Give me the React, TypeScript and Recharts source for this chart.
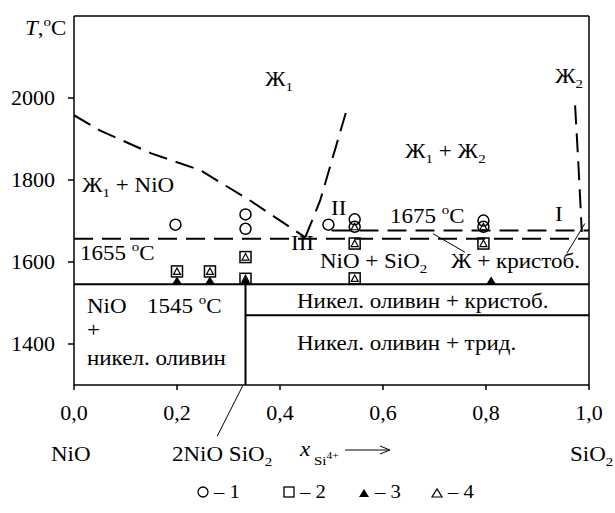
import React from 'react';
import {
  ComposedChart,
  Line,
  Scatter,
  XAxis,
  YAxis,
  ReferenceLine,
} from 'recharts';

// axis ticks
const xTicks = [0, 0.2, 0.4, 0.6, 0.8, 1.0];
const yTicks = [1400, 1600, 1800, 2000];

// liquidus / boundary curves (x = mole fraction Si4+, y = T, °C)
const liquidusNiO = [
  { x: 0, y: 1958 },
  { x: 0.05, y: 1921 },
  { x: 0.15, y: 1865 },
  { x: 0.245, y: 1824 },
  { x: 0.342, y: 1750 },
  { x: 0.449, y: 1660 },
];
const liquidusEut = [
  { x: 0.449, y: 1660 },
  { x: 0.478, y: 1750 },
  { x: 0.532, y: 1982 },
];
const liquidusSiO2 = [
  { x: 0.973, y: 1982 },
  { x: 0.979, y: 1848 },
  { x: 0.983, y: 1750 },
  { x: 0.986, y: 1673 },
];
const iso1655 = [
  { x: 0, y: 1657 },
  { x: 1, y: 1657 },
];
const iso1675 = [
  { x: 0.5, y: 1677 },
  { x: 1, y: 1677 },
];
const solidus1545 = [
  { x: 0, y: 1546 },
  { x: 1, y: 1546 },
];
const olivineLine = [
  { x: 0.333, y: 1300 },
  { x: 0.333, y: 1546 },
];
const solid1470 = [
  { x: 0.333, y: 1470 },
  { x: 1, y: 1470 },
];

// experimental points
const series1 = [
  { x: 0.197, y: 1691 },
  { x: 0.333, y: 1716 },
  { x: 0.333, y: 1681 },
  { x: 0.494, y: 1691 },
  { x: 0.545, y: 1704 },
  { x: 0.545, y: 1686 },
  { x: 0.795, y: 1701 },
  { x: 0.795, y: 1686 },
];
const series2 = [
  { x: 0.2, y: 1577 },
  { x: 0.264, y: 1577 },
  { x: 0.333, y: 1612 },
  { x: 0.333, y: 1559 },
  { x: 0.545, y: 1645 },
  { x: 0.545, y: 1560 },
  { x: 0.795, y: 1645 },
];
const series3 = [
  { x: 0.2, y: 1545 },
  { x: 0.264, y: 1545 },
  { x: 0.333, y: 1545 },
  { x: 0.81, y: 1545 },
];
const series4 = [
  { x: 0.2, y: 1577 },
  { x: 0.264, y: 1577 },
  { x: 0.333, y: 1612 },
  { x: 0.333, y: 1559 },
  { x: 0.545, y: 1686 },
  { x: 0.545, y: 1645 },
  { x: 0.545, y: 1560 },
  { x: 0.795, y: 1686 },
  { x: 0.795, y: 1645 },
];

// leader lines for labels
const leaderMelt: [{ x: number; y: number }, { x: number; y: number }] = [
  { x: 0.697, y: 1669 },
  { x: 0.759, y: 1624 },
];
const leaderI: [{ x: number; y: number }, { x: number; y: number }] = [
  { x: 0.957, y: 1621 },
  { x: 0.992, y: 1694 },
];
const leaderOlivine: [{ x: number; y: number }, { x: number; y: number }] = [
  { x: 0.278, y: 1175 },
  { x: 0.328, y: 1299 },
];

const FONT = '"Liberation Serif", "Times New Roman", serif';
const FS = 20;
const SX = 1.15; // scanned figure is a bit wider than tall

const Circle = (p: any) => (
  <circle cx={p.cx} cy={p.cy} r={5.5} fill="none" stroke="#000" strokeWidth={1.5} />
);
const Square = (p: any) => (
  <rect x={p.cx - 5.5} y={p.cy - 5.5} width={11} height={11} fill="none" stroke="#000" strokeWidth={1.5} />
);
const FilledTri = (p: any) => (
  <path d={`M${p.cx - 5},${p.cy} L${p.cx + 5},${p.cy} L${p.cx},${p.cy - 8} Z`} fill="#000" />
);
const OpenTri = (p: any) => (
  <path d={`M${p.cx - 3.5},${p.cy + 3} L${p.cx + 3.5},${p.cy + 3} L${p.cx},${p.cy - 3.5} Z`} fill="none" stroke="#000" strokeWidth={1.2} />
);

const XTick = (p: any) => (
  <text
    transform={`translate(${p.x} ${p.y}) scale(1.1 1)`}
    textAnchor="middle"
    dy="0.71em"
    fontSize={FS}
    fontFamily={FONT}
    fill="#000"
  >
    {Number(p.payload.value).toFixed(1).replace('.', ',')}
  </text>
);
const YTick = (p: any) => (
  <text
    transform={`translate(${p.x} ${p.y}) scale(1.1 1)`}
    textAnchor="end"
    dy="0.36em"
    fontSize={FS}
    fontFamily={FONT}
    fill="#000"
  >
    {p.payload.value}
  </text>
);

// stretched text
const T = ({ x, y, children }: { x: number; y: number; children: React.ReactNode }) => (
  <text transform={`translate(${x} ${y}) scale(${SX} 1)`}>{children}</text>
);

const Sub = ({ children }: { children: React.ReactNode }) => (
  <tspan dy={5} fontSize={13}>{children}</tspan>
);

function Overlay() {
  return (
    <svg
      width={615}
      height={513}
      style={{ position: 'absolute', left: 0, top: 0, pointerEvents: 'none' }}
      fontFamily={FONT}
      fontSize={FS}
      fill="#000"
    >
      <T x={25} y={35}>
        <tspan fontStyle="italic">T</tspan>,<tspan dy={-9} fontSize={13}>o</tspan>
        <tspan dy={9}>C</tspan>
      </T>
      <T x={265} y={86}>
        Ж<Sub>1</Sub>
      </T>
      <T x={555} y={83}>
        Ж<Sub>2</Sub>
      </T>
      <T x={405} y={158}>
        Ж<Sub>1</Sub>
        <tspan dy={-5}> + Ж</tspan>
        <Sub>2</Sub>
      </T>
      <T x={82} y={192}>
        Ж<Sub>1</Sub>
        <tspan dy={-5}> + NiO</tspan>
      </T>
      <T x={331} y={215}>II</T>
      <T x={390} y={223}>
        1675 <tspan dy={-9} fontSize={13}>o</tspan>
        <tspan dy={9}>C</tspan>
      </T>
      <T x={555} y={221}>I</T>
      <T x={80} y={260}>
        1655 <tspan dy={-9} fontSize={13}>o</tspan>
        <tspan dy={9}>C</tspan>
      </T>
      <T x={291} y={250}>III</T>
      <T x={320} y={268}>
        NiO + SiO<Sub>2</Sub>
      </T>
      <T x={451} y={268}>Ж + кристоб.</T>
      <T x={297} y={308}>Никел. оливин + кристоб.</T>
      <T x={297} y={350}>Никел. оливин + трид.</T>
      <T x={87} y={313}>NiO</T>
      <T x={147} y={313}>
        1545 <tspan dy={-9} fontSize={13}>o</tspan>
        <tspan dy={9}>C</tspan>
      </T>
      <T x={87} y={337}>+</T>
      <T x={87} y={365}>никел. оливин</T>

      <T x={51} y={461}>NiO</T>
      <T x={172} y={461}>
        2NiO SiO<Sub>2</Sub>
      </T>
      <T x={300} y={456}>
        <tspan fontStyle="italic">x</tspan>
        <tspan dy={9} fontSize={13}> Si</tspan>
        <tspan dy={-6} fontSize={10}>4+</tspan>
      </T>
      <line x1={345} y1={450} x2={388} y2={450} stroke="#000" strokeWidth={1} />
      <path d="M380,446 L390,450 L380,454" fill="none" stroke="#000" strokeWidth={1} />
      <T x={570} y={461}>
        SiO<Sub>2</Sub>
      </T>

      <g fontSize={18}>
        <circle cx={203} cy={492} r={5} fill="none" stroke="#000" strokeWidth={1.3} />
        <T x={214} y={498}>– 1</T>
        <rect x={284} y={487} width={10} height={10} fill="none" stroke="#000" strokeWidth={1.3} />
        <T x={300} y={498}>– 2</T>
        <path d="M359,497 L369,497 L364,489 Z" fill="#000" />
        <T x={375} y={498}>– 3</T>
        <path d="M432,497 L442,497 L437,489 Z" fill="none" stroke="#000" strokeWidth={1.2} />
        <T x={448} y={498}>– 4</T>
      </g>
    </svg>
  );
}

const lineProps = {
  type: 'linear' as const,
  dataKey: 'y',
  dot: false,
  activeDot: false,
  stroke: '#000',
  isAnimationActive: false,
  legendType: 'none' as const,
};

export default function App() {
  return (
    <div style={{ position: 'absolute', left: 0, top: 0, width: 615, height: 513, background: '#fff' }}>
      <ComposedChart
        width={615}
        height={513}
        margin={{ top: 16, right: 26, left: 14, bottom: 98 }}
      >
        <XAxis
          type="number"
          dataKey="x"
          domain={[0, 1]}
          ticks={xTicks}
          allowDataOverflow
          height={30}
          tickSize={5}
          tickMargin={16}
          stroke="#000"
          strokeWidth={1.5}
          tick={XTick}
        />
        <YAxis
          type="number"
          dataKey="y"
          domain={[1300, 2200]}
          ticks={yTicks}
          allowDataOverflow
          width={60}
          tickSize={6}
          tickMargin={13}
          stroke="#000"
          strokeWidth={1.5}
          tick={YTick}
        />
        <ReferenceLine y={2200} stroke="#000" strokeWidth={1.5} />
        <ReferenceLine x={1} stroke="#000" strokeWidth={1.5} />

        <Line {...lineProps} data={liquidusNiO} strokeWidth={2} strokeDasharray="19 9" />
        <Line {...lineProps} data={liquidusEut} strokeWidth={2} strokeDasharray="19 9" />
        <Line {...lineProps} data={liquidusSiO2} strokeWidth={2} strokeDasharray="19 9" />
        <Line {...lineProps} data={iso1655} strokeWidth={2} strokeDasharray="19 9" />
        <Line {...lineProps} data={iso1675} strokeWidth={2} strokeDasharray="19 9" />
        <Line {...lineProps} data={solidus1545} strokeWidth={2} />
        <Line {...lineProps} data={olivineLine} strokeWidth={2} />
        <Line {...lineProps} data={solid1470} strokeWidth={2} />

        <ReferenceLine segment={leaderMelt} stroke="#000" strokeWidth={1} ifOverflow="visible" />
        <ReferenceLine segment={leaderI} stroke="#000" strokeWidth={1} ifOverflow="visible" />
        <ReferenceLine segment={leaderOlivine} stroke="#000" strokeWidth={1} ifOverflow="visible" />

        <Scatter data={series1} shape={Circle} isAnimationActive={false} />
        <Scatter data={series2} shape={Square} isAnimationActive={false} />
        <Scatter data={series3} shape={FilledTri} isAnimationActive={false} />
        <Scatter data={series4} shape={OpenTri} isAnimationActive={false} />
      </ComposedChart>
      <Overlay />
    </div>
  );
}
